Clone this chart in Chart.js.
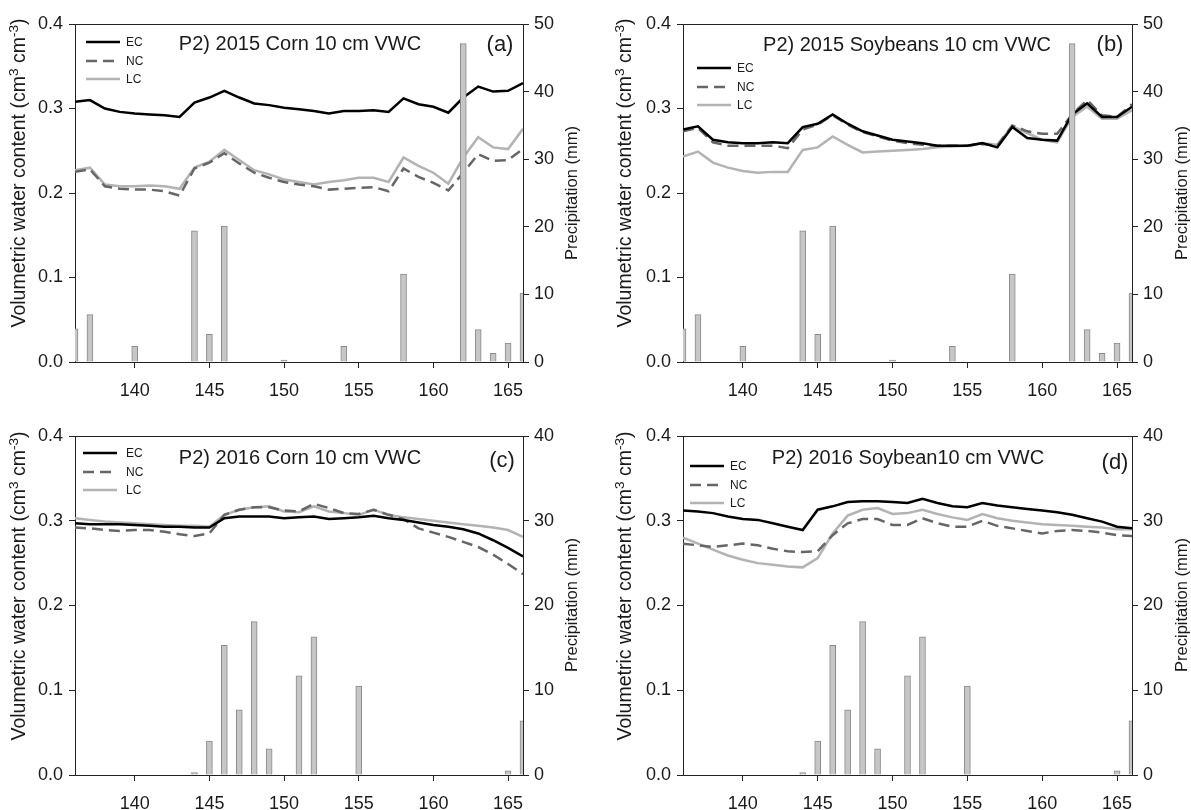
<!DOCTYPE html>
<html>
<head>
<meta charset="utf-8">
<script src="https://cdn.jsdelivr.net/npm/chart.js@4.4.1/dist/chart.umd.min.js"></script>
<style>
    html, body { margin: 0; padding: 0; background: #fff; }
    #wrap { position: relative; width: 1191px; height: 810px; overflow: hidden; background: #fff;
            font-family: "Liberation Sans", Arial, sans-serif; color: #1a1a1a; }
    canvas { position: absolute; }
    .txt { position: absolute; white-space: nowrap; transform: translate(-50%, -50%); }
    .ttl { font-size: 20px; }
    .tag { font-size: 22px; }
    .vt { position: absolute; white-space: nowrap; line-height: 1; transform: translate(-50%, -50%) rotate(-90deg); }
    .vt sup { font-size: 70%; line-height: 0; vertical-align: 0.55em; }
    .leg { position: absolute; font-size: 12px; white-space: nowrap; }
</style>
</head>
<body>
<div id="wrap">
    <canvas id="pa" width="581" height="405" style="left:0;top:0"></canvas>
    <canvas id="pb" width="584" height="405" style="left:607px;top:0"></canvas>
    <canvas id="pc" width="581" height="398" style="left:0;top:412px"></canvas>
    <canvas id="pd" width="584" height="398" style="left:607px;top:412px"></canvas>
</div>
<script>
// day of year, one reading per day
const days = [136, 137, 138, 139, 140, 141, 142, 143, 144, 145, 146, 147, 148, 149, 150,
    151, 152, 153, 154, 155, 156, 157, 158, 159, 160, 161, 162, 163, 164, 165, 166];
const xTicks = [140, 145, 150, 155, 160, 165];
const vwcTicks = [0, 0.1, 0.2, 0.3, 0.4];
const rainTicks2015 = [0, 10, 20, 30, 40, 50];
const rainTicks2016 = [0, 10, 20, 30, 40];

// (a) 2015 corn
const cornEC15 = [0.308, 0.310, 0.300, 0.296, 0.294, 0.293, 0.292, 0.290, 0.307, 0.313, 0.321, 0.313, 0.306, 0.304, 0.301,
    0.299, 0.297, 0.294, 0.297, 0.297, 0.298, 0.296, 0.312, 0.305, 0.302, 0.295, 0.313, 0.326, 0.320, 0.321, 0.330];
const cornNC15 = [0.225, 0.228, 0.208, 0.205, 0.204, 0.204, 0.202, 0.197, 0.229, 0.236, 0.247, 0.235, 0.224, 0.218, 0.213,
    0.210, 0.208, 0.204, 0.205, 0.206, 0.207, 0.202, 0.229, 0.219, 0.212, 0.203, 0.224, 0.246, 0.238, 0.239, 0.252];
const cornLC15 = [0.227, 0.230, 0.210, 0.208, 0.208, 0.209, 0.208, 0.205, 0.230, 0.237, 0.251, 0.239, 0.227, 0.222, 0.216,
    0.213, 0.210, 0.213, 0.215, 0.218, 0.218, 0.213, 0.242, 0.232, 0.224, 0.211, 0.242, 0.266, 0.254, 0.252, 0.276];

// (b) 2015 soybeans
const soyEC15 = [0.275, 0.279, 0.263, 0.260, 0.259, 0.259, 0.260, 0.259, 0.278, 0.282, 0.293, 0.282, 0.273, 0.268, 0.263,
    0.261, 0.259, 0.256, 0.256, 0.256, 0.259, 0.254, 0.278, 0.265, 0.263, 0.262, 0.293, 0.306, 0.290, 0.290, 0.302];
const soyNC15 = [0.273, 0.277, 0.260, 0.256, 0.256, 0.256, 0.256, 0.253, 0.275, 0.281, 0.292, 0.281, 0.272, 0.267, 0.262,
    0.259, 0.257, 0.256, 0.256, 0.256, 0.258, 0.256, 0.280, 0.273, 0.270, 0.270, 0.293, 0.310, 0.292, 0.290, 0.305];
const soyLC15 = [0.243, 0.249, 0.236, 0.230, 0.226, 0.224, 0.225, 0.225, 0.251, 0.254, 0.267, 0.257, 0.248, 0.249, 0.250,
    0.251, 0.252, 0.254, 0.255, 0.256, 0.259, 0.257, 0.279, 0.271, 0.263, 0.260, 0.290, 0.302, 0.288, 0.288, 0.298];

// (c) 2016 corn
const cornEC16 = [0.297, 0.296, 0.296, 0.296, 0.295, 0.294, 0.293, 0.293, 0.292, 0.292, 0.303, 0.305, 0.305, 0.305, 0.303,
    0.304, 0.305, 0.302, 0.303, 0.304, 0.306, 0.303, 0.301, 0.298, 0.295, 0.293, 0.290, 0.285, 0.277, 0.268, 0.258];
const cornNC16 = [0.292, 0.291, 0.289, 0.288, 0.289, 0.289, 0.287, 0.284, 0.282, 0.285, 0.307, 0.313, 0.316, 0.316, 0.312,
    0.311, 0.320, 0.315, 0.309, 0.308, 0.313, 0.307, 0.302, 0.291, 0.286, 0.281, 0.275, 0.269, 0.260, 0.249, 0.237];
const cornLC16 = [0.303, 0.301, 0.299, 0.298, 0.297, 0.296, 0.295, 0.294, 0.294, 0.293, 0.307, 0.313, 0.316, 0.317, 0.311,
    0.310, 0.317, 0.311, 0.309, 0.307, 0.313, 0.307, 0.304, 0.302, 0.300, 0.298, 0.296, 0.294, 0.292, 0.289, 0.281];

// (d) 2016 soybean
const soyEC16 = [0.312, 0.311, 0.309, 0.305, 0.302, 0.301, 0.297, 0.293, 0.289, 0.313, 0.317, 0.322, 0.323, 0.323, 0.322,
    0.321, 0.326, 0.321, 0.317, 0.316, 0.321, 0.318, 0.316, 0.314, 0.312, 0.310, 0.307, 0.303, 0.299, 0.293, 0.291];
const soyNC16 = [0.273, 0.271, 0.269, 0.271, 0.273, 0.271, 0.267, 0.264, 0.263, 0.264, 0.283, 0.297, 0.302, 0.302, 0.295,
    0.295, 0.303, 0.297, 0.293, 0.293, 0.300, 0.294, 0.291, 0.288, 0.285, 0.288, 0.289, 0.288, 0.286, 0.283, 0.282];
const soyLC16 = [0.280, 0.273, 0.266, 0.259, 0.254, 0.250, 0.248, 0.246, 0.245, 0.256, 0.285, 0.306, 0.313, 0.315, 0.308,
    0.309, 0.313, 0.308, 0.304, 0.301, 0.308, 0.303, 0.300, 0.298, 0.296, 0.295, 0.294, 0.293, 0.292, 0.290, 0.290];

// precipitation (mm), rain days only
const rainDays2015 = [136, 137, 140, 144, 145, 146, 150, 154, 158, 162, 163, 164, 165, 166];
const rain2015 = [4.9, 7.0, 2.3, 19.4, 4.1, 20.1, 0.3, 2.3, 13.0, 47.1, 4.8, 1.3, 2.8, 10.2];
const rainDays2016 = [144, 145, 146, 147, 148, 149, 151, 152, 155, 165, 166];
const rain2016 = [0.3, 4.0, 15.3, 7.7, 18.1, 3.1, 11.7, 16.3, 10.5, 0.5, 6.4];

const FONT = "'Liberation Sans', Arial, sans-serif";
const INK = "#1a1a1a";
const AXIS = "#222222";

const SERIES_STYLE = {
    EC: { color: "#000000", dash: [] },
    NC: { color: "#666666", dash: [11, 6] },
    LC: { color: "#b3b3b3", dash: [] },
};

function toXY(xs, ys) {
    return xs.map((x, i) => ({ x, y: ys[i] }));
}

function lineSet(label, values) {
    const style = SERIES_STYLE[label];
    return {
        type: "line",
        label,
        data: toXY(days, values),
        borderColor: style.color,
        borderDash: style.dash,
        borderWidth: 2.5,
        pointRadius: 0,
        tension: 0,
        yAxisID: "y",
        order: 1,
    };
}

function makePanel(id, series, rainX, rainY, rainTicks, layout) {
    const tickList = (list) => (scale) => {
        scale.ticks = list.map((value) => ({ value }));
    };
    const axisGrid = { display: true, drawOnChartArea: false, tickLength: 6, color: AXIS, lineWidth: 1 };

    return new Chart(document.getElementById(id), {
        type: "line",
        data: {
            datasets: [
                lineSet("EC", series[0]),
                lineSet("NC", series[1]),
                lineSet("LC", series[2]),
                {
                    type: "bar",
                    label: "Precipitation",
                    data: toXY(rainX, rainY),
                    backgroundColor: "#c6c6c6",
                    borderColor: "#8a8a8a",
                    borderWidth: 1,
                    barThickness: 6,
                    yAxisID: "y2",
                    order: 0,
                },
            ],
        },
        options: {
            responsive: false,
            animation: false,
            events: [],
            layout: { padding: { left: 9, right: 0, top: 24, bottom: 0 } },
            plugins: { legend: { display: false }, tooltip: { enabled: false } },
            scales: {
                x: {
                    type: "linear",
                    position: "bottom",
                    min: 136,
                    max: 166,
                    offset: false,
                    afterBuildTicks: tickList(xTicks),
                    afterFit: (scale) => { scale.height = layout.xHeight; },
                    grid: { ...axisGrid, offset: false },
                    border: { color: AXIS, width: 1 },
                    ticks: { color: INK, font: { family: FONT, size: 18 }, padding: 12, maxRotation: 0, autoSkip: false },
                },
                xTop: {
                    type: "linear",
                    position: "top",
                    min: 136,
                    max: 166,
                    afterFit: (scale) => { scale.height = 0; },
                    grid: { display: true, drawOnChartArea: false, drawTicks: false, color: AXIS },
                    border: { display: true, color: AXIS, width: 1 },
                    ticks: { display: false },
                },
                y: {
                    position: "left",
                    min: 0,
                    max: 0.4,
                    afterBuildTicks: tickList(vwcTicks),
                    afterFit: (scale) => { scale.width = layout.leftWidth; },
                    grid: axisGrid,
                    border: { color: AXIS, width: 1 },
                    ticks: {
                        color: INK,
                        font: { family: FONT, size: 18 },
                        padding: 6,
                        callback: (value) => value.toFixed(1),
                    },
                },
                y2: {
                    position: "right",
                    min: 0,
                    max: rainTicks[rainTicks.length - 1],
                    afterBuildTicks: tickList(rainTicks),
                    afterFit: (scale) => { scale.width = layout.rightWidth; },
                    grid: axisGrid,
                    border: { color: AXIS, width: 1 },
                    ticks: { color: INK, font: { family: FONT, size: 18 }, padding: 5 },
                },
            },
        },
    });
}

makePanel("pa", [cornEC15, cornNC15, cornLC15], rainDays2015, rain2015, rainTicks2015,
    { leftWidth: 66, rightWidth: 58, xHeight: 43 });
makePanel("pb", [soyEC15, soyNC15, soyLC15], rainDays2015, rain2015, rainTicks2015,
    { leftWidth: 67, rightWidth: 59, xHeight: 43 });
makePanel("pc", [cornEC16, cornNC16, cornLC16], rainDays2016, rain2016, rainTicks2016,
    { leftWidth: 66, rightWidth: 58, xHeight: 35 });
makePanel("pd", [soyEC16, soyNC16, soyLC16], rainDays2016, rain2016, rainTicks2016,
    { leftWidth: 67, rightWidth: 59, xHeight: 35 });

// panel titles, tags, axis titles and legends (page pixels)
const overlays = [
    { title: "P2) 2015 Corn 10 cm VWC", tx: 300, ty: 43, tag: "(a)", gx: 500, gy: 44,
      lx: 86, ly: 42, lt: 126, yl: 19, yr: 571, yc: 173, yc2: 193 },
    { title: "P2) 2015 Soybeans 10 cm VWC", tx: 907, ty: 44, tag: "(b)", gx: 1110, gy: 44,
      lx: 697, ly: 68, lt: 737, yl: 625, yr: 1181, yc: 173, yc2: 193 },
    { title: "P2) 2016 Corn 10 cm VWC", tx: 300, ty: 457, tag: "(c)", gx: 502, gy: 460,
      lx: 83, ly: 453, lt: 126, yl: 19, yr: 571, yc: 586, yc2: 605 },
    { title: "P2) 2016 Soybean10 cm VWC", tx: 908, ty: 457, tag: "(d)", gx: 1115, gy: 462,
      lx: 690, ly: 466, lt: 730, yl: 625, yr: 1181, yc: 586, yc2: 605 },
];
const legendRows = ["EC", "NC", "LC"];
const wrap = document.getElementById("wrap");

function addText(cls, text, x, y) {
    const el = document.createElement("div");
    el.className = "txt " + cls;
    el.textContent = text;
    el.style.left = x + "px";
    el.style.top = y + "px";
    wrap.appendChild(el);
}

function addVertical(html, x, y, size) {
    const el = document.createElement("div");
    el.className = "vt";
    el.innerHTML = html;
    el.style.left = x + "px";
    el.style.top = y + "px";
    el.style.fontSize = size + "px";
    wrap.appendChild(el);
}

overlays.forEach((o) => {
    addText("ttl", o.title, o.tx, o.ty);
    addText("tag", o.tag, o.gx, o.gy);
    addVertical("Volumetric water content (cm<sup>3</sup> cm<sup>-3</sup>)", o.yl, o.yc, 19.5);
    addVertical("Precipitation (mm)", o.yr, o.yc2, 16.5);
    legendRows.forEach((name, i) => {
        const y = o.ly + i * 18.5;
        const style = SERIES_STYLE[name];
        const svg = document.createElementNS("http://www.w3.org/2000/svg", "svg");
        svg.setAttribute("width", "34");
        svg.setAttribute("height", "6");
        svg.style.position = "absolute";
        svg.style.left = o.lx + "px";
        svg.style.top = (y - 3) + "px";
        const ln = document.createElementNS("http://www.w3.org/2000/svg", "line");
        ln.setAttribute("x1", "0");
        ln.setAttribute("x2", "34");
        ln.setAttribute("y1", "3");
        ln.setAttribute("y2", "3");
        ln.setAttribute("stroke", style.color);
        ln.setAttribute("stroke-width", "2.5");
        if (style.dash.length) {
            ln.setAttribute("stroke-dasharray", "11 6");
        }
        svg.appendChild(ln);
        wrap.appendChild(svg);

        const lab = document.createElement("div");
        lab.className = "leg";
        lab.textContent = name;
        lab.style.left = o.lt + "px";
        lab.style.top = (y - 7) + "px";
        lab.style.lineHeight = "14px";
        wrap.appendChild(lab);
    });
});
</script>
</body>
</html>
